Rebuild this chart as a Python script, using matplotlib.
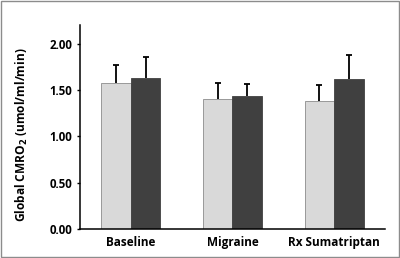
import numpy as np
import matplotlib.pyplot as plt
from matplotlib.patches import Rectangle

plt.rcParams['font.family'] = ['Open Sans', 'DejaVu Sans']

categories = ['Baseline', 'Migraine', 'Rx Sumatriptan']
light_vals = [1.58, 1.40, 1.38]
light_err = [0.19, 0.18, 0.17]
dark_vals = [1.63, 1.44, 1.62]
dark_err = [0.22, 0.12, 0.26]
yticks = [0.0, 0.5, 1.0, 1.5, 2.0]

fig = plt.figure(figsize=(4, 2.58), dpi=100)
ax = fig.add_axes([0.2, 0.112, 0.7625, 0.791])

x = np.arange(len(categories))
w = 0.29
ax.bar(x - w / 2, light_vals, w, color='#d9d9d9', edgecolor='#8c8c8c', linewidth=0.6)
ax.bar(x + w / 2, dark_vals, w, color='#404040', edgecolor='#404040', linewidth=0.6)

# error bars, upper half only
for pos, vals, errs in [(x - w / 2, light_vals, light_err), (x + w / 2, dark_vals, dark_err)]:
    _, caps, _ = ax.errorbar(pos, vals, yerr=[np.zeros(3), errs], fmt='none', ecolor='black',
                             elinewidth=1.3, capsize=2.2, capthick=1.3)
    caps[0].set_visible(False)

ax.set_xlim(-0.5, 2.5)
ax.set_ylim(0, 2.2)
ax.set_yticks(yticks)
ax.set_yticklabels([f'{v:.2f}' for v in yticks], fontsize=8.3, fontweight='bold')
ax.set_xticks(x)
ax.set_xticklabels(categories, fontsize=8.5, fontweight='bold')
ax.tick_params(axis='x', length=0, pad=5)
ax.tick_params(axis='y', length=2.5, width=1, direction='out', pad=3)
ax.set_ylabel('Global CMRO$_\\mathbf{2}$ (umol/ml/min)', fontsize=8.6, fontweight='bold')
ax.yaxis.set_label_coords(-0.165, 0.46)

for s in ['top', 'right']:
    ax.spines[s].set_visible(False)
for s in ['left', 'bottom']:
    ax.spines[s].set_linewidth(1.1)

fig.patches.append(Rectangle((0.002, 0.003), 0.995, 0.993, transform=fig.transFigure,
                             fill=False, edgecolor='#8c8c8c', linewidth=1))

fig.savefig('out.png', dpi=100)
